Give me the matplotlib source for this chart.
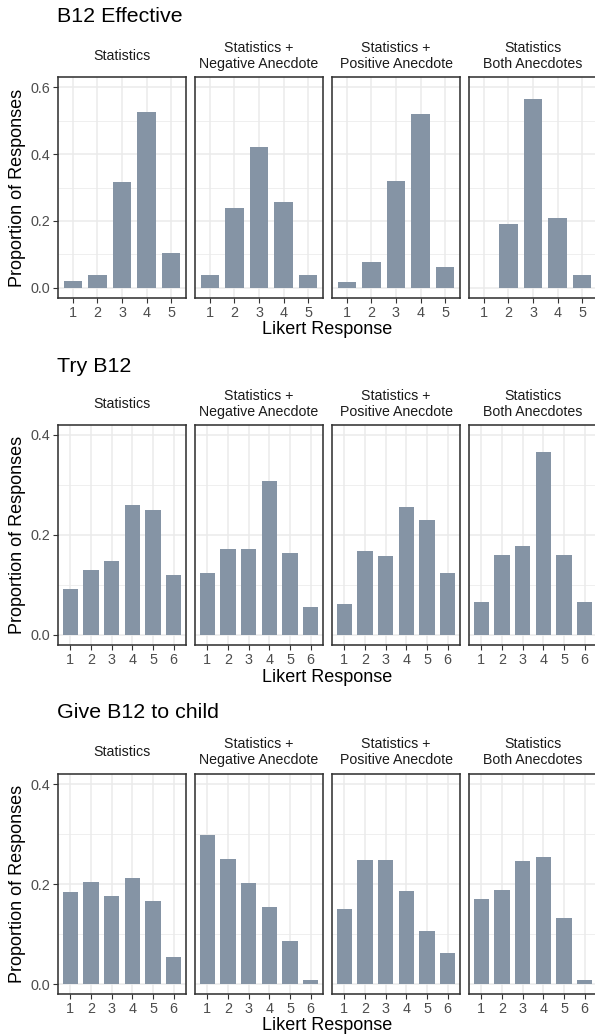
import matplotlib
matplotlib.use("Agg")
import matplotlib.pyplot as plt
from matplotlib.ticker import FixedLocator

plt.rcParams['font.family'] = ['Liberation Sans', 'DejaVu Sans']

# ---------------- data ----------------
conditions = ["Statistics",
              "Statistics +\nNegative Anecdote",
              "Statistics +\nPositive Anecdote",
              "Statistics\nBoth Anecdotes"]
questions = ["B12 Effective", "Try B12", "Give B12 to child"]

effective_levels = [1, 2, 3, 4, 5]
effective_stats = [0.020, 0.038, 0.315, 0.526, 0.103]
effective_neg = [0.038, 0.240, 0.422, 0.258, 0.038]
effective_pos = [0.017, 0.079, 0.318, 0.520, 0.062]
effective_both = [0.0, 0.190, 0.565, 0.208, 0.038]

try_levels = [1, 2, 3, 4, 5, 6]
try_stats = [0.093, 0.131, 0.149, 0.260, 0.250, 0.121]
try_neg = [0.125, 0.172, 0.172, 0.308, 0.165, 0.057]
try_pos = [0.063, 0.168, 0.159, 0.256, 0.230, 0.125]
try_both = [0.067, 0.161, 0.178, 0.367, 0.161, 0.067]

child_levels = [1, 2, 3, 4, 5, 6]
child_stats = [0.185, 0.205, 0.177, 0.213, 0.167, 0.055]
child_neg = [0.298, 0.250, 0.203, 0.155, 0.087, 0.009]
child_pos = [0.151, 0.249, 0.249, 0.187, 0.107, 0.063]
child_both = [0.171, 0.189, 0.247, 0.254, 0.133, 0.009]

y_limits = [0.6, 0.4, 0.4]
y_breaks = [[0.0, 0.2, 0.4, 0.6], [0.0, 0.2, 0.4], [0.0, 0.2, 0.4]]
y_minor = [[0.1, 0.3, 0.5], [0.1, 0.3], [0.1, 0.3]]

rows = [
    (effective_levels, [effective_stats, effective_neg, effective_pos, effective_both]),
    (try_levels, [try_stats, try_neg, try_pos, try_both]),
    (child_levels, [child_stats, child_neg, child_pos, child_both]),
]

# ---------------- layout (pixels) ----------------
W, H = 595, 1035
fig = plt.figure(figsize=(W / 100, H / 100), dpi=100)
fig.patch.set_facecolor("white")

panel_top = [77, 425, 774]
panel_bot = [298, 645, 994]
panel_left = [58, 195, 332, 469]
panel_w = 128

title_y = [17, 366, 713]
strip_y = [56, 404, 752]
xlab_y = [329, 677, 1026]

bar_color = "#8594A5"
grid_color = "#EBEBEB"
border_color = "#333333"
tick_text_color = "#4D4D4D"


def fx(px):
    return px / W


def fy(py):
    return 1 - py / H


for r, (levels, series) in enumerate(rows):
    top, bot = panel_top[r], panel_bot[r]
    ymax = y_limits[r]
    for c, vals in enumerate(series):
        ax = fig.add_axes([fx(panel_left[c]), fy(bot), panel_w / W, (bot - top) / H])
        ax.bar(levels, vals, width=0.75, color=bar_color, zorder=3)
        n = len(levels)
        ax.set_xlim(0.4, n + 0.6)
        ax.set_ylim(-0.05 * ymax, ymax * 1.05)
        ax.xaxis.set_major_locator(FixedLocator(levels))
        ax.set_xticklabels([str(v) for v in levels])
        ax.yaxis.set_major_locator(FixedLocator(y_breaks[r]))
        ax.yaxis.set_minor_locator(FixedLocator(y_minor[r]))
        ax.grid(which="major", axis="both", color=grid_color, lw=1.1, zorder=0)
        ax.grid(which="minor", axis="y", color=grid_color, lw=0.55, zorder=0)
        ax.set_axisbelow(True)
        for sp in ax.spines.values():
            sp.set_color(border_color)
            sp.set_linewidth(1.15)
        ax.tick_params(axis="both", which="major", length=3.3, width=0.8,
                       color=border_color, labelcolor=tick_text_color,
                       labelsize=10.4, pad=2.5)
        ax.tick_params(axis="y", which="minor", length=0)
        if c == 0:
            ax.set_yticklabels(["%.1f" % v for v in y_breaks[r]])
        else:
            ax.tick_params(axis="y", which="major", length=0, labelleft=False)
        # strip label
        fig.text(fx(panel_left[c] + panel_w / 2), fy(strip_y[r]), conditions[c],
                 ha="center", va="center", fontsize=10.2, color="#1A1A1A",
                 linespacing=1.15)
    # row title
    fig.text(fx(57), fy(title_y[r]), questions[r], ha="left", va="center",
             fontsize=15.4, color="black")
    # y label
    fig.text(fx(18), fy((top + bot) / 2), "Proportion of Responses", rotation=90,
             ha="center", va="center", fontsize=13, color="black")
    # x label
    fig.text(fx(327), fy(xlab_y[r]), "Likert Response", ha="center", va="center",
             fontsize=13, color="black")

fig.savefig("out.png", dpi=100, facecolor="white")
